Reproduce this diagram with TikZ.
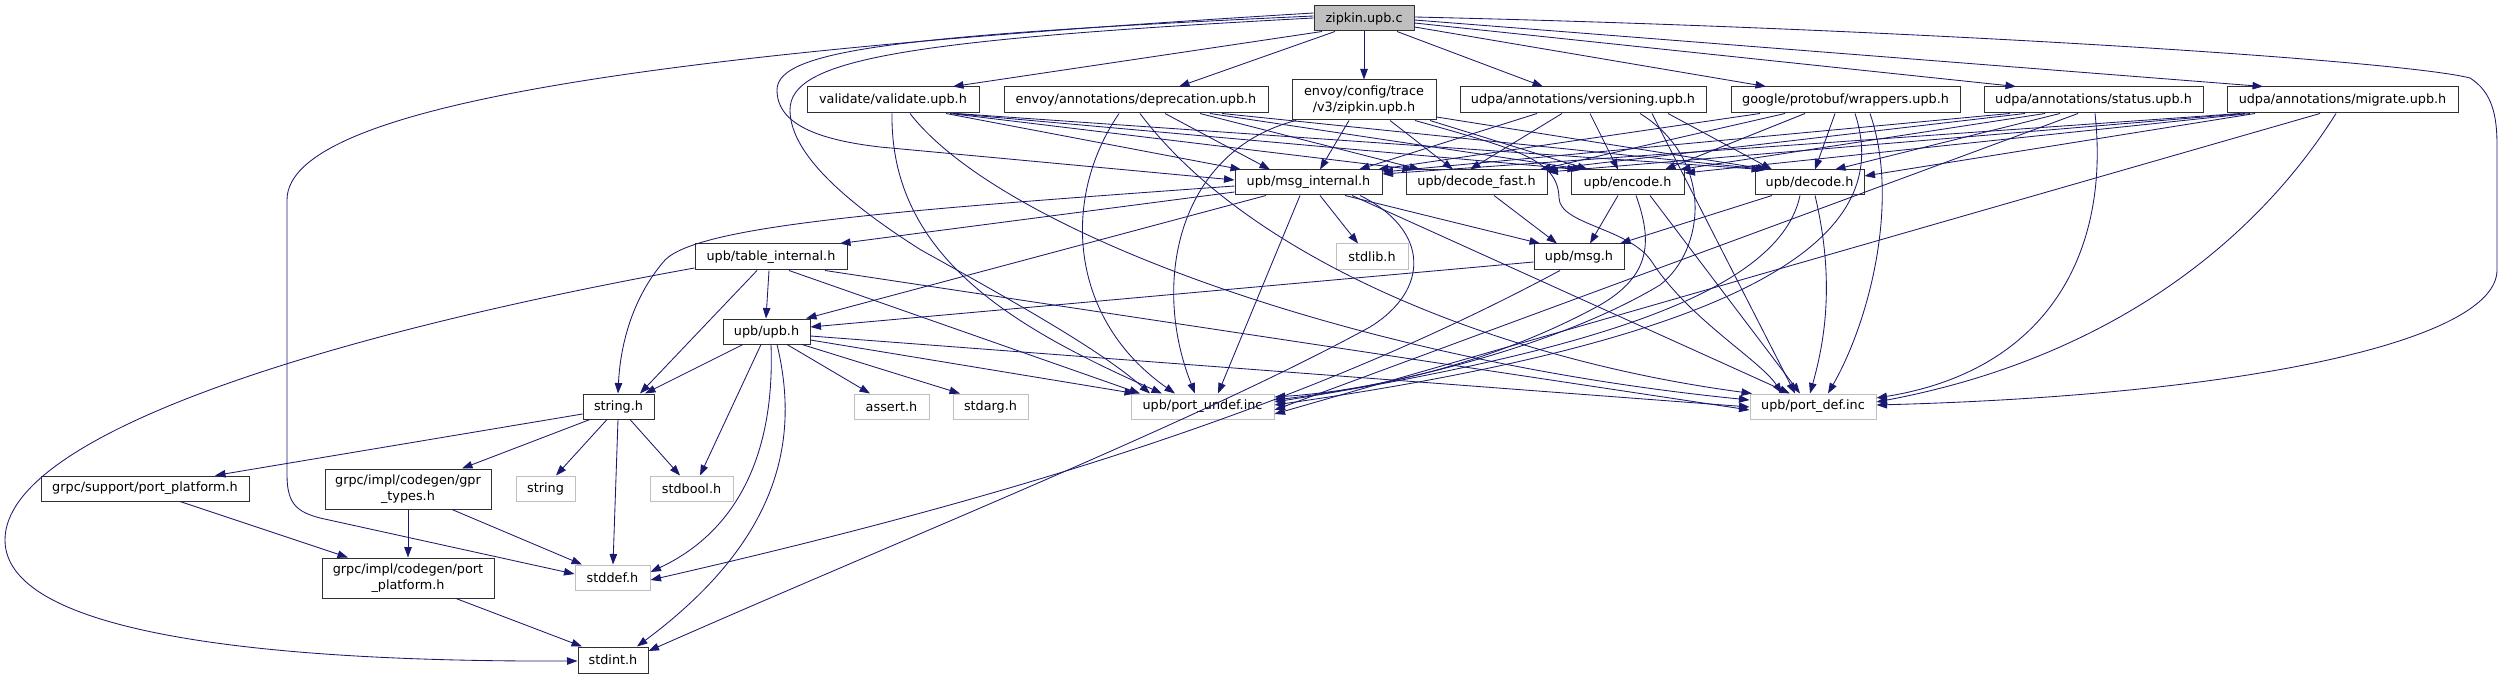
\documentclass[tikz,border=0pt]{standalone}
\usepackage{fontspec}
\setmainfont{DejaVu Sans}
\usetikzlibrary{arrows.meta,calc}
\definecolor{edgec}{HTML}{191970}
\definecolor{sysgray}{HTML}{BFBFBF}
\definecolor{bord}{HTML}{303030}
\begin{document}
\begin{tikzpicture}[x=1pt,y=-1pt,
  box/.style={draw=bord, line width=1pt, fill=white, inner sep=0pt, align=center,
    font=\fontsize{12.8}{16}\selectfont, text=black},
  sysbox/.style={box, draw=sysgray},
  rootbox/.style={box, fill=sysgray, draw=bord},
  conn/.style={draw=edgec, line width=0.85pt, -{Triangle[length=10.5pt,width=7.5pt]}}]
\useasboundingbox (0,0) rectangle (2504,679);
% ---- nodes ----
\node[rootbox, minimum width=100pt, minimum height=25pt] (zip) at (1364,18.5) {zipkin.upb.c};
\node[box, minimum width=172pt, minimum height=26pt] (val) at (893,100) {validate/validate.upb.h};
\node[box, minimum width=264pt, minimum height=26pt] (dep) at (1136,100) {envoy/annotations/deprecation.upb.h};
\node[box, minimum width=144pt, minimum height=40pt] (env) at (1364,100) {envoy/config/trace\\/v3/zipkin.upb.h};
\node[box, minimum width=246pt, minimum height=26pt] (ver) at (1583,100) {udpa/annotations/versioning.upb.h};
\node[box, minimum width=229pt, minimum height=26pt] (wra) at (1845.5,100) {google/protobuf/wrappers.upb.h};
\node[box, minimum width=219pt, minimum height=26pt] (sta) at (2093.5,100) {udpa/annotations/status.upb.h};
\node[box, minimum width=231pt, minimum height=26pt] (mig) at (2342.5,100) {udpa/annotations/migrate.upb.h};
\node[box, minimum width=147pt, minimum height=25pt] (mi) at (1308.5,182.5) {upb/msg\_internal.h};
\node[box, minimum width=141pt, minimum height=25pt] (df) at (1476.5,182.5) {upb/decode\_fast.h};
\node[box, minimum width=113pt, minimum height=25pt] (enc) at (1627.5,182.5) {upb/encode.h};
\node[box, minimum width=109pt, minimum height=25pt] (dec) at (1809.5,182.5) {upb/decode.h};
\node[box, minimum width=152pt, minimum height=26pt] (ti) at (771,257) {upb/table\_internal.h};
\node[sysbox, minimum width=72pt, minimum height=26pt] (stdlib) at (1372,257) {stdlib.h};
\node[box, minimum width=90pt, minimum height=26pt] (msg) at (1579,257) {upb/msg.h};
\node[box, minimum width=87pt, minimum height=25pt] (upb) at (766.5,331.5) {upb/upb.h};
\node[box, minimum width=71pt, minimum height=25pt] (str) at (618.5,406.5) {string.h};
\node[sysbox, minimum width=75pt, minimum height=25pt] (assert) at (891.5,406.5) {assert.h};
\node[sysbox, minimum width=75pt, minimum height=25pt] (stdarg) at (990.5,406.5) {stdarg.h};
\node[sysbox, minimum width=143pt, minimum height=25pt] (pu) at (1202.5,406.5) {upb/port\_undef.inc};
\node[sysbox, minimum width=126pt, minimum height=25pt] (pd) at (1813,406.5) {upb/port\_def.inc};
\node[box, minimum width=208pt, minimum height=25pt] (gsp) at (145,488.5) {grpc/support/port\_platform.h};
\node[box, minimum width=166pt, minimum height=40pt] (gpr) at (408,489) {grpc/impl/codegen/gpr\\\_types.h};
\node[sysbox, minimum width=59pt, minimum height=25pt] (string) at (545.5,488.5) {string};
\node[sysbox, minimum width=83pt, minimum height=25pt] (stdbool) at (691.5,488.5) {stdbool.h};
\node[box, minimum width=172pt, minimum height=40pt] (gpp) at (408,578) {grpc/impl/codegen/port\\\_platform.h};
\node[sysbox, minimum width=75pt, minimum height=25pt] (stddef) at (612.5,577.5) {stddef.h};
\node[box, minimum width=70pt, minimum height=26pt] (stdint) at (613,660) {stdint.h};
% ---- edges from zipkin.upb.c ----
\draw[conn] (1322,0 |- zip.south) -- (953,0 |- val.north);
\draw[conn] (1335,0 |- zip.south) -- (1179,0 |- dep.north);
\draw[conn] (1364,0 |- zip.south) -- (1364,0 |- env.north);
\draw[conn] (1397,0 |- zip.south) -- (1543,0 |- ver.north);
\draw[conn] (zip.east |- 0,27) -- (1766,0 |- wra.north);
\draw[conn] (zip.east |- 0,23) -- (2016,0 |- sta.north);
\draw[conn] (zip.east |- 0,20) -- (2263,0 |- mig.north);
\draw[conn] (zip.east |- 0,17) .. controls (1900,28) and (2400,60) .. (2470,78)
  .. controls (2492,92) and (2497,115) .. (2497,145) -- (2497,270)
  .. controls (2497,340) and (2250,395) .. (pd.east |- 0,405);
\draw[conn] (zip.west |- 0,13) .. controls (700,50) and (287,100) .. (287,200) -- (287,475)
  .. controls (287,505) and (298,512) .. (320,518) -- (stddef.west |- 0,574);
\draw[conn] (zip.west |- 0,16) .. controls (900,35) and (777,50) .. (777,90)
  .. controls (777,125) and (820,140) .. (880,147) -- (mi.west |- 0,180);
\draw[conn] (zip.west |- 0,18) .. controls (900,40) and (790,60) .. (790,110)
  .. controls (790,155) and (850,205) .. (921,250) .. controls (1020,305) and (1100,350) .. (1150,0 |- pu.north);
% ---- validate ----
\draw[conn] (946,0 |- val.south) -- (1241,0 |- mi.north);
\draw[conn] (950,0 |- val.south) -- (1413,0 |- df.north);
\draw[conn] (953,0 |- val.south) -- (1578,0 |- enc.north);
\draw[conn] (956,0 |- val.south) -- (1762,0 |- dec.north);
\draw[conn] (892,0 |- val.south) .. controls (890,260) and (1020,330) .. (1162,0 |- pu.north);
\draw[conn] (910,0 |- val.south) .. controls (1000,230) and (1350,360) .. (pd.west |- 0,400);
% ---- deprecation ----
\draw[conn] (1165,0 |- dep.south) -- (1270,0 |- mi.north);
\draw[conn] (1200,0 |- dep.south) -- (1420,0 |- df.north);
\draw[conn] (1210,0 |- dep.south) -- (1583,0 |- enc.north);
\draw[conn] (1222,0 |- dep.south) -- (1766,0 |- dec.north);
\draw[conn] (1119,0 |- dep.south) .. controls (1060,200) and (1070,320) .. (1175,0 |- pu.north);
\draw[conn] (1140,0 |- dep.south) .. controls (1250,260) and (1500,360) .. (1752,0 |- pd.north);
% ---- envoy/config ----
\draw[conn] (1349,0 |- env.south) -- (1320,0 |- mi.north);
\draw[conn] (1390,0 |- env.south) -- (1453,0 |- df.north);
\draw[conn] (1430,0 |- env.south) -- (1588,0 |- enc.north);
\draw[conn] (env.east |- 0,117) -- (1768,0 |- dec.north);
\draw[conn] (1296,0 |- env.south) .. controls (1180,150) and (1150,280) .. (1195,0 |- pu.north);
\draw[conn] (1415,0 |- env.south) .. controls (1520,150) and (1558,160) .. (1559,198)
  .. controls (1560,225) and (1630,228) .. (1652,262)
  .. controls (1690,320) and (1760,360) .. (1782,0 |- pd.north);
% ---- versioning ----
\draw[conn] (1537,0 |- ver.south) -- (1359,0 |- mi.north);
\draw[conn] (1562,0 |- ver.south) -- (1470,0 |- df.north);
\draw[conn] (1590,0 |- ver.south) -- (1618,0 |- enc.north);
\draw[conn] (1668,0 |- ver.south) -- (1772,0 |- dec.north);
\draw[conn] (1640,0 |- ver.south) .. controls (1715,160) and (1705,250) .. (1660,285)
  .. controls (1560,345) and (1400,385) .. (pu.east |- 0,400);
\draw[conn] (1652,0 |- ver.south) -- (1795,0 |- pd.north);
% ---- wrappers ----
\draw[conn] (1760,0 |- wra.south) -- (1378,0 |- mi.north);
\draw[conn] (1785,0 |- wra.south) -- (1540,0 |- df.north);
\draw[conn] (1805,0 |- wra.south) -- (1665,0 |- enc.north);
\draw[conn] (1835,0 |- wra.south) -- (1815,0 |- dec.north);
\draw[conn] (1855,0 |- wra.south) .. controls (1890,220) and (1800,330) .. (pu.east |- 0,405);
\draw[conn] (1870,0 |- wra.south) .. controls (1900,200) and (1870,320) .. (1828,0 |- pd.north);
% ---- status ----
\draw[conn] (2010,0 |- sta.south) -- (mi.east |- 0,172);
\draw[conn] (2025,0 |- sta.south) -- (1545,0 |- df.north);
\draw[conn] (2045,0 |- sta.south) -- (1680,0 |- enc.north);
\draw[conn] (2060,0 |- sta.south) -- (1835,0 |- dec.north);
\draw[conn] (2078,0 |- sta.south) -- (pu.east |- 0,410);
\draw[conn] (2095,0 |- sta.south) .. controls (2110,250) and (2050,370) .. (pd.east |- 0,398);
% ---- migrate ----
\draw[conn] (2240,0 |- mig.south) -- (mi.east |- 0,174);
\draw[conn] (2245,0 |- mig.south) -- (df.east |- 0,172);
\draw[conn] (2250,0 |- mig.south) -- (enc.east |- 0,173);
\draw[conn] (2255,0 |- mig.south) -- (dec.east |- 0,176);
\draw[conn] (2320,0 |- mig.south) -- (pu.east |- 0,414);
\draw[conn] (2336,0 |- mig.south) .. controls (2250,250) and (2100,360) .. (pd.east |- 0,402);
% ---- msg_internal ----
\draw[conn] (mi.west |- 0,192) -- (840,0 |- ti.north);
\draw[conn] (mi.west |- 0,186) .. controls (900,210) and (700,225) .. (665,260)
  .. controls (630,300) and (620,350) .. (618,0 |- str.north);
\draw[conn] (1266,0 |- mi.south) -- (806,0 |- upb.north);
\draw[conn] (1320,0 |- mi.south) -- (1358,0 |- stdlib.north);
\draw[conn] (1345,0 |- mi.south) -- (1540,0 |- msg.north);
\draw[conn] (1300,0 |- mi.south) -- (1218,0 |- pu.north);
\draw[conn] (1352,0 |- mi.south) -- (1790,0 |- pd.north);
\draw[conn] (1360,0 |- mi.south) .. controls (1430,230) and (1430,290) .. (1370,327)
  .. controls (1200,420) and (900,540) .. (stdint.east |- 0,651);
% ---- table_internal ----
\draw[conn] (769,0 |- ti.south) -- (766,0 |- upb.north);
\draw[conn] (757,0 |- ti.south) -- (640,0 |- str.north);
\draw[conn] (789,0 |- ti.south) -- (1140,0 |- pu.north);
\draw[conn] (825,0 |- ti.south) -- (pd.west |- 0,410);
\draw[conn] (ti.west |- 0,268) .. controls (350,330) and (5,430) .. (5,540)
  .. controls (5,640) and (300,662) .. (stdint.west |- 0,661);
% ---- upb.h ----
\draw[conn] (743,0 |- upb.south) -- (645,0 |- str.north);
\draw[conn] (761,0 |- upb.south) -- (700,0 |- stdbool.north);
\draw[conn] (771,0 |- upb.south) .. controls (775,450) and (740,530) .. (stddef.east |- 0,572);
\draw[conn] (777,0 |- upb.south) .. controls (800,440) and (780,540) .. (637,0 |- stdint.north);
\draw[conn] (787,0 |- upb.south) -- (870,0 |- assert.north);
\draw[conn] (802,0 |- upb.south) -- (960,0 |- stdarg.north);
\draw[conn] (upb.east |- 0,340) -- (1135,0 |- pu.north);
\draw[conn] (upb.east |- 0,336) -- (pd.west |- 0,407);
% ---- string.h ----
\draw[conn] (str.west |- 0,414) -- (215,0 |- gsp.north);
\draw[conn] (590,0 |- str.south) -- (462,0 |- gpr.north);
\draw[conn] (607,0 |- str.south) -- (556,0 |- string.north);
\draw[conn] (618,0 |- str.south) -- (613,0 |- stddef.north);
\draw[conn] (630,0 |- str.south) -- (680,0 |- stdbool.north);
% ---- grpc ----
\draw[conn] (180,0 |- gsp.south) -- (348,0 |- gpp.north);
\draw[conn] (408,0 |- gpr.south) -- (408,0 |- gpp.north);
\draw[conn] (452,0 |- gpr.south) -- (582,0 |- stddef.north);
\draw[conn] (456,0 |- gpp.south) -- (582,0 |- stdint.north);
% ---- decode_fast / encode / decode ----
\draw[conn] (1494,0 |- df.south) -- (1557,0 |- msg.north);
\draw[conn] (1618,0 |- enc.south) -- (1590,0 |- msg.north);
\draw[conn] (1636,0 |- enc.south) .. controls (1652,240) and (1652,275) .. (1600,305)
  .. controls (1500,360) and (1380,390) .. (pu.east |- 0,397);
\draw[conn] (1650,0 |- enc.south) -- (1800,0 |- pd.north);
\draw[conn] (1772,0 |- dec.south) -- (1620,0 |- msg.north);
\draw[conn] (1800,0 |- dec.south) .. controls (1780,290) and (1600,350) .. (pu.east |- 0,402);
\draw[conn] (1815,0 |- dec.south) .. controls (1835,280) and (1825,340) .. (1810,0 |- pd.north);
% ---- msg.h ----
\draw[conn] (msg.west |- 0,262) -- (upb.east |- 0,327);
\draw[conn] (1560,0 |- msg.south) .. controls (1300,410) and (1000,500) .. (stddef.east |- 0,580);
\end{tikzpicture}
\end{document}
